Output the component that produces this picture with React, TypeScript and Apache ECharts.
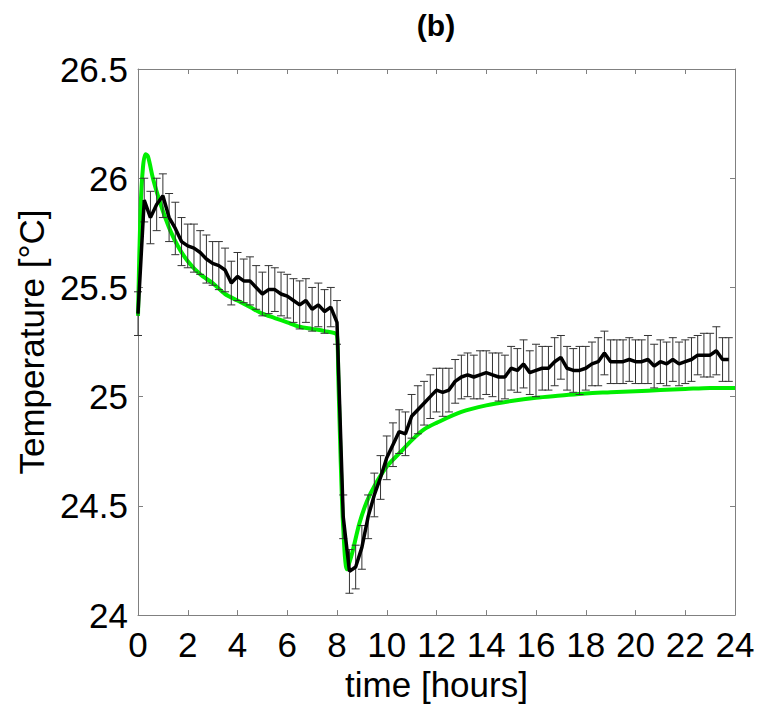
import React, { useEffect, useRef } from "react";
import * as echarts from "echarts";

// Measured mean temperature (black) with standard deviation (error bars)
const measTime = [
  0, 0.25, 0.5, 0.75, 1, 1.25, 1.5, 1.75, 2, 2.25, 2.5, 2.75, 3, 3.25, 3.5, 3.75,
  4, 4.25, 4.5, 4.75, 5, 5.25, 5.5, 5.75, 6, 6.25, 6.5, 6.75, 7, 7.25, 7.5, 7.75,
  8, 8.25, 8.5, 8.75, 9, 9.25, 9.5, 9.75, 10, 10.25, 10.5, 10.75, 11, 11.25, 11.5, 11.75,
  12, 12.25, 12.5, 12.75, 13, 13.25, 13.5, 13.75, 14, 14.25, 14.5, 14.75, 15, 15.25, 15.5, 15.75,
  16, 16.25, 16.5, 16.75, 17, 17.25, 17.5, 17.75, 18, 18.25, 18.5, 18.75, 19, 19.25, 19.5, 19.75,
  20, 20.25, 20.5, 20.75, 21, 21.25, 21.5, 21.75, 22, 22.25, 22.5, 22.75, 23, 23.25, 23.5, 23.75,
];
const measMean = [
  25.38, 25.9, 25.82, 25.88, 25.92, 25.82, 25.77, 25.71, 25.69, 25.68, 25.66, 25.63, 25.61, 25.6, 25.58, 25.52,
  25.55, 25.53, 25.53, 25.5, 25.47, 25.49, 25.49, 25.47, 25.46, 25.44, 25.42, 25.44, 25.4, 25.42, 25.39, 25.41,
  25.34, 24.45, 24.2, 24.22, 24.31, 24.45, 24.55, 24.63, 24.72, 24.78, 24.84, 24.83, 24.91, 24.94, 24.97, 25.0,
  25.03, 25.02, 25.03, 25.07, 25.09, 25.1, 25.09, 25.1, 25.11, 25.1, 25.09, 25.09, 25.13, 25.12, 25.15, 25.11,
  25.12, 25.13, 25.13, 25.16, 25.18, 25.13, 25.12, 25.12, 25.13, 25.15, 25.16, 25.2, 25.16, 25.16, 25.16, 25.17,
  25.16, 25.16, 25.17, 25.14, 25.16, 25.15, 25.17, 25.15, 25.16, 25.17, 25.19, 25.19, 25.19, 25.21, 25.17, 25.17,
];
const measStd = [
  0.1, 0.1, 0.12, 0.12, 0.1, 0.11, 0.12, 0.11, 0.1, 0.11, 0.1, 0.11, 0.1, 0.11, 0.1, 0.1,
  0.11, 0.1, 0.11, 0.1, 0.1, 0.11, 0.1, 0.1, 0.1, 0.1, 0.11, 0.1, 0.1, 0.1, 0.1, 0.09,
  0.1, 0.1, 0.1, 0.1, 0.1, 0.1, 0.1, 0.1, 0.1, 0.1, 0.1, 0.1, 0.1, 0.11, 0.1, 0.1,
  0.1, 0.11, 0.1, 0.1, 0.1, 0.1, 0.1, 0.11, 0.1, 0.1, 0.11, 0.1, 0.1, 0.1, 0.11, 0.1,
  0.12, 0.1, 0.1, 0.11, 0.1, 0.1, 0.1, 0.11, 0.1, 0.1, 0.11, 0.1, 0.1, 0.1, 0.1, 0.1,
  0.1, 0.1, 0.11, 0.1, 0.1, 0.1, 0.1, 0.1, 0.1, 0.1, 0.09, 0.1, 0.1, 0.11, 0.1, 0.1,
];

// Model prediction (green)
const modelTime = [
  0, 0.1, 0.2, 0.3, 0.4, 0.6, 0.8, 1.0, 1.3, 1.6, 2.0, 2.5, 3.0, 3.5, 4.0, 4.5, 5.0, 5.5,
  6.0, 6.5, 7.0, 7.5, 8.0, 8.05, 8.15, 8.25, 8.4, 8.6, 8.9, 9.2, 9.5, 10, 10.5, 11, 11.5,
  12, 13, 14, 15, 16, 17, 18, 19, 20, 21, 22, 23, 24,
];
const modelTemp = [
  25.37, 25.85, 26.05, 26.11, 26.1, 26.0, 25.92, 25.85, 25.76, 25.69, 25.62, 25.56, 25.52, 25.47, 25.44, 25.41, 25.38, 25.36,
  25.34, 25.32, 25.31, 25.3, 25.28, 25.1, 24.7, 24.4, 24.21, 24.28, 24.42, 24.52, 24.59, 24.68, 24.74, 24.8, 24.85,
  24.88, 24.93, 24.96, 24.98, 24.995, 25.005, 25.015, 25.02, 25.025, 25.03, 25.035, 25.04, 25.04,
];

const xTicks = { min: 0, max: 24, interval: 2 };
const yTicks = { min: 24, max: 26.5, interval: 0.5 };

const TITLE = "(b)";
const X_NAME = "time [hours]";
const Y_NAME = "Temperature [°C]";

export default function App() {
  const ref = useRef<HTMLDivElement>(null);
  useEffect(() => {
    document.body.style.margin = "0";
    if (!ref.current) return;
    const chart = echarts.init(ref.current, undefined, { renderer: "svg" });
    const font = "'Liberation Sans', Arial, Helvetica, sans-serif";
    const axisColor = "#808080";
    const errData = measTime.map((t, i) => [t, measMean[i], measStd[i]]);
    const baseAxis = (extra: any) => ({
      type: "value",
      axisLine: { show: true, onZero: false, lineStyle: { color: axisColor, width: 1 } },
      axisTick: { show: true, inside: true, length: 5, lineStyle: { color: axisColor } },
      splitLine: { show: false },
      ...extra,
    });
    chart.setOption({
      animation: false,
      backgroundColor: "#ffffff",
      title: {
        text: TITLE,
        left: 436,
        textAlign: "center",
        top: 10,
        padding: 0,
        textStyle: { fontFamily: font, fontSize: 30, fontWeight: "bold", color: "#000" },
      },
      grid: { left: 138, right: 23, top: 69, bottom: 88, containLabel: false },
      xAxis: [
        baseAxis({
          ...xTicks,
          position: "bottom",
          name: X_NAME,
          nameLocation: "middle",
          nameGap: 41,
          nameTextStyle: { fontFamily: font, fontSize: 35, color: "#000" },
          axisLabel: { fontFamily: font, fontSize: 35, color: "#000", margin: 12 },
        }),
        baseAxis({ ...xTicks, position: "top", axisLabel: { show: false } }),
      ],
      yAxis: [
        baseAxis({
          ...yTicks,
          position: "left",
          name: Y_NAME,
          nameLocation: "middle",
          nameGap: 80,
          nameTextStyle: { fontFamily: font, fontSize: 35, color: "#000" },
          axisLabel: { fontFamily: font, fontSize: 35, color: "#000", margin: 10 },
        }),
        baseAxis({ ...yTicks, position: "right", axisLabel: { show: false } }),
      ],
      series: [
        {
          type: "line",
          name: "model",
          data: modelTime.map((t, i) => [t, modelTemp[i]]),
          showSymbol: false,
          smooth: 0.3,
          lineStyle: { color: "#00ee00", width: 4 },
          z: 2,
        },
        {
          type: "custom",
          name: "std",
          data: errData,
          encode: { x: 0, y: [1] },
          z: 3,
          renderItem: (params: any, api: any) => {
            const x = api.value(0);
            const m = api.value(1);
            const s = api.value(2);
            const top = api.coord([x, m + s]);
            const bot = api.coord([x, m - s]);
            const w = 4;
            const style = { stroke: "#333333", lineWidth: 1 };
            return {
              type: "group",
              children: [
                { type: "line", shape: { x1: top[0], y1: top[1], x2: bot[0], y2: bot[1] }, style },
                { type: "line", shape: { x1: top[0] - w, y1: top[1], x2: top[0] + w, y2: top[1] }, style },
                { type: "line", shape: { x1: bot[0] - w, y1: bot[1], x2: bot[0] + w, y2: bot[1] }, style },
              ],
            };
          },
        },
        {
          type: "line",
          name: "mean",
          data: measTime.map((t, i) => [t, measMean[i]]),
          showSymbol: false,
          lineStyle: { color: "#000000", width: 3.5 },
          z: 4,
        },
      ],
    });
    return () => chart.dispose();
  }, []);
  return <div ref={ref} style={{ width: 758, height: 707 }} />;
}
